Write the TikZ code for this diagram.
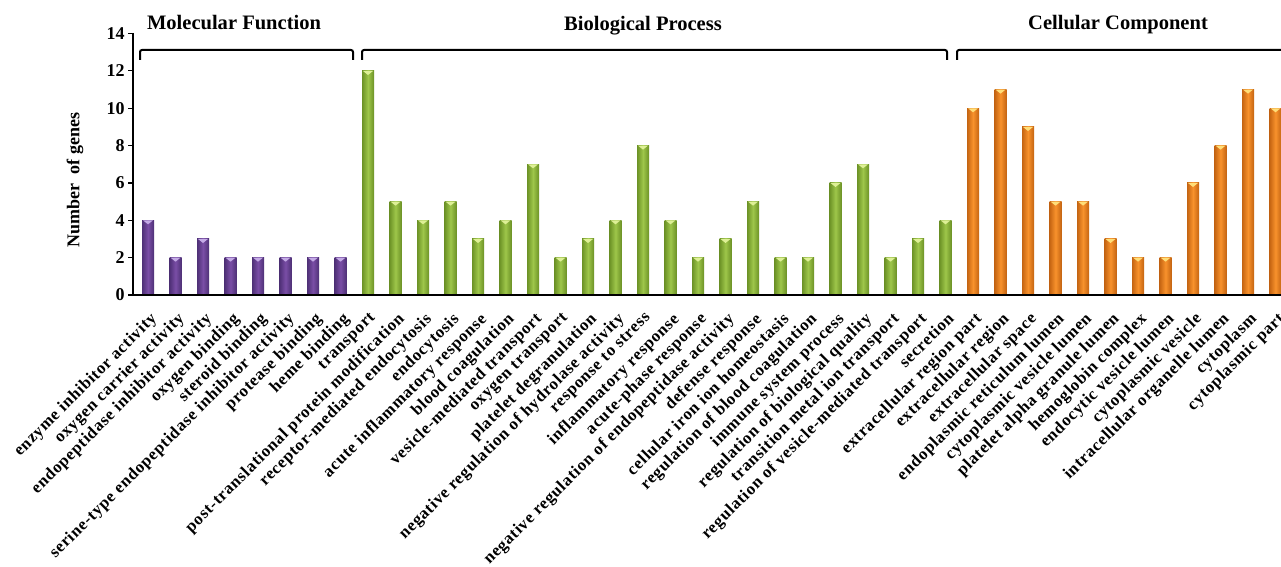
\documentclass[tikz,border=0pt]{standalone}
\usepackage{fontspec}
\setmainfont{Liberation Serif}
\newfontfamily\lblfont[LetterSpace=4]{Liberation Serif}
\definecolor{mf}{RGB}{122,78,166}
\definecolor{mfdark}{RGB}{78,48,118}
\definecolor{mflight}{RGB}{196,170,230}
\definecolor{bp}{RGB}{158,198,74}
\definecolor{bpdark}{RGB}{108,146,38}
\definecolor{bplight}{RGB}{222,240,150}
\definecolor{cc}{RGB}{248,146,44}
\definecolor{ccdark}{RGB}{196,100,18}
\definecolor{cclight}{RGB}{255,222,120}
\begin{document}
\begin{tikzpicture}[x=0.75pt,y=-0.75pt,
	lbl/.style={font=\lblfont\bfseries\fontsize{12.6}{13}\selectfont, rotate=45, anchor=north east, inner sep=0pt},
	tick/.style={font=\bfseries\fontsize{13.5}{14}\selectfont, anchor=east, inner sep=0pt},
	title/.style={font=\bfseries\fontsize{15.4}{16}\selectfont, inner sep=0pt},
	brace/.style={line width=1.5pt, rounded corners=1.5pt}]
	\useasboundingbox (0,0) rectangle (1281,567);
	% axes
	\draw[line width=0.8pt] (133,33) -- (133,295);
	\foreach \y in {0,2,...,14}{
		\draw[line width=0.8pt] (128,295-\y*18.67) -- (133,295-\y*18.67);
		\node[tick] (t\y) at (125,295-\y*18.67) {\y};
	}
	\node[font=\bfseries\fontsize{13.5}{14}\selectfont, rotate=90] (ylab) at (75,180) {Number\ \ of genes};
	% bars
	\foreach \v/\t/\c [count=\i from 0] in {
		4/enzyme inhibitor activity/mf, 2/oxygen carrier activity/mf,
		3/endopeptidase inhibitor activity/mf, 2/oxygen binding/mf,
		2/steroid binding/mf, 2/serine-type endopeptidase inhibitor activity/mf,
		2/protease binding/mf, 2/heme binding/mf,
		12/transport/bp, 5/post-translational protein modification/bp,
		4/receptor-mediated endocytosis/bp, 5/endocytosis/bp,
		3/acute inflammatory response/bp, 4/blood coagulation/bp,
		7/vesicle-mediated transport/bp, 2/oxygen transport/bp,
		3/platelet degranulation/bp, 4/negative regulation of hydrolase activity/bp,
		8/response to stress/bp, 4/inflammatory response/bp,
		2/acute-phase response/bp, 3/negative regulation of endopeptidase activity/bp,
		5/defense response/bp, 2/cellular iron ion homeostasis/bp,
		2/regulation of blood coagulation/bp, 6/immune system process/bp,
		7/regulation of biological quality/bp, 2/transition metal ion transport/bp,
		3/regulation of vesicle-mediated transport/bp, 4/secretion/bp,
		10/extracellular region part/cc, 11/extracellular region/cc,
		9/extracellular space/cc, 5/endoplasmic reticulum lumen/cc,
		5/cytoplasmic vesicle lumen/cc, 3/platelet alpha granule lumen/cc,
		2/hemoglobin complex/cc, 2/endocytic vesicle lumen/cc,
		6/cytoplasmic vesicle/cc, 8/intracellular organelle lumen/cc,
		11/cytoplasm/cc, 10/cytoplasmic part/cc}{
		\pgfmathsetmacro{\x}{148+\i*27.5}
		\pgfmathsetmacro{\top}{295-\v*18.67}
		\shade[left color=\c dark, right color=\c dark, middle color=\c] (\x-6,295) rectangle (\x+6,\top);
		\fill[\c light] (\x-5,\top) -- (\x+5,\top) -- (\x,\top+4) -- cycle;
		\node[lbl] (l\i) at (\x+1,311) {\t};
	}
	\draw[line width=1.5pt] (133,295) -- (1281,295);
	% brackets and titles
	\draw[brace] (140,60) -- (140,50) -- (353,50) -- (353,60);
	\draw[brace] (362,60) -- (362,50) -- (947,50) -- (947,60);
	\draw[brace] (957,60) -- (957,50) -- (1290,50);
	\node[title] (mf) at (234,23) {Molecular Function};
	\node[title] (bp) at (643,26) {Biological Process};
	\node[title] (cc) at (1118,25) {Cellular Component};
\end{tikzpicture}
\end{document}
